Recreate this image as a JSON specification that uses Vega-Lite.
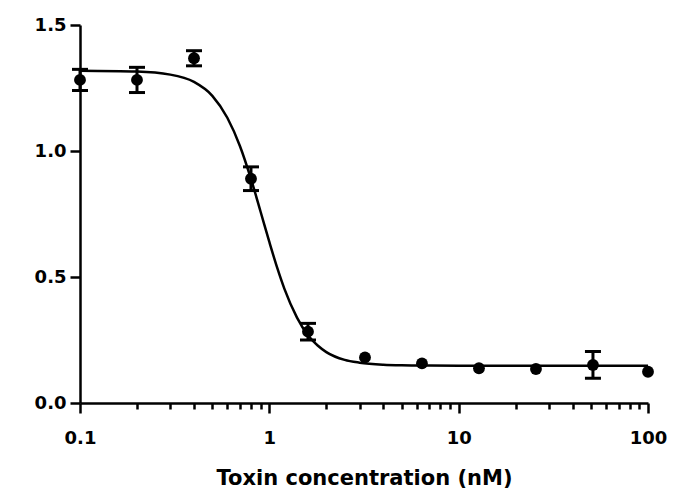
{
  "$schema": "https://vega.github.io/schema/vega-lite/v6.json",
  "autosize": {"type": "none"},
  "padding": {"left": 80, "top": 25, "right": 28, "bottom": 90},
  "width": 568,
  "height": 378,
  "background": "white",
  "config": {
    "view": {"stroke": null},
    "axis": {
      "domainColor": "black",
      "domainWidth": 2.5,
      "tickColor": "black",
      "tickWidth": 2.5,
      "grid": false,
      "labelFont": "DejaVu Sans",
      "labelFontWeight": "bold",
      "labelFontSize": 18,
      "labelColor": "black",
      "titleFont": "DejaVu Sans",
      "titleFontWeight": "bold",
      "titleColor": "black"
    }
  },
  "datasets": {
    "curve": [
      {"cx": 0.1, "cy": 1.318},
      {"cx": 0.2, "cy": 1.315},
      {"cx": 0.3, "cy": 1.303},
      {"cx": 0.4, "cy": 1.274},
      {"cx": 0.5, "cy": 1.219},
      {"cx": 0.6, "cy": 1.132},
      {"cx": 0.7, "cy": 1.019},
      {"cx": 0.8, "cy": 0.889},
      {"cx": 0.9, "cy": 0.758},
      {"cx": 1.0, "cy": 0.639},
      {"cx": 1.1, "cy": 0.537},
      {"cx": 1.2, "cy": 0.454},
      {"cx": 1.4, "cy": 0.339},
      {"cx": 1.6, "cy": 0.269},
      {"cx": 1.8, "cy": 0.228},
      {"cx": 2.0, "cy": 0.202},
      {"cx": 2.5, "cy": 0.171},
      {"cx": 3.0, "cy": 0.160},
      {"cx": 4.0, "cy": 0.152},
      {"cx": 5.0, "cy": 0.1496},
      {"cx": 7.0, "cy": 0.1484},
      {"cx": 10.0, "cy": 0.148},
      {"cx": 20.0, "cy": 0.148},
      {"cx": 50.0, "cy": 0.148},
      {"cx": 100.0, "cy": 0.148}
    ],
    "pts": [
      {"x": 0.1, "y": 1.282},
      {"x": 0.2, "y": 1.282},
      {"x": 0.4, "y": 1.368},
      {"x": 0.8, "y": 0.890},
      {"x": 1.6, "y": 0.283},
      {"x": 3.2, "y": 0.181},
      {"x": 6.4, "y": 0.157},
      {"x": 12.8, "y": 0.138},
      {"x": 25.6, "y": 0.135},
      {"x": 51.2, "y": 0.151},
      {"x": 100, "y": 0.124}
    ],
    "errs": [
      {"x": 0.1, "lo": 1.240, "hi": 1.324},
      {"x": 0.2, "lo": 1.232, "hi": 1.332},
      {"x": 0.4, "lo": 1.338, "hi": 1.398},
      {"x": 0.8, "lo": 0.843, "hi": 0.937},
      {"x": 1.6, "lo": 0.250, "hi": 0.316},
      {"x": 51.2, "lo": 0.098, "hi": 0.204}
    ]
  },
  "layer": [
    {
      "data": {"name": "curve"},
      "mark": {"type": "line", "color": "black", "strokeWidth": 2.5, "interpolate": "monotone"},
      "encoding": {
        "x": {
          "field": "cx", "type": "quantitative",
          "scale": {"type": "log", "domain": [0.1, 100], "nice": false},
          "axis": {
            "title": "Toxin concentration (nM)",
            "titleFontSize": 21,
            "titlePadding": 20,
            "values": [0.1, 0.2, 0.3, 0.4, 0.5, 0.6, 0.7, 0.8, 0.9, 1, 2, 3, 4, 5, 6, 7, 8, 9, 10, 20, 30, 40, 50, 60, 70, 80, 90, 100],
            "labelExpr": "datum.value == 0.1 ? '0.1' : datum.value == 1 ? '1' : datum.value == 10 ? '10' : datum.value == 100 ? '100' : ''",
            "labelOverlap": false,
            "labelFlush": false,
            "labelPadding": 16,
            "tickSize": {"condition": {"test": "datum.value == 0.1 || datum.value == 1 || datum.value == 10 || datum.value == 100", "value": 10}, "value": 6}
          }
        },
        "y": {
          "field": "cy", "type": "quantitative",
          "scale": {"domain": [0, 1.5], "nice": false},
          "axis": {
            "title": null,
            "values": [0, 0.5, 1, 1.5],
            "format": ".1f",
            "tickSize": 10,
            "labelPadding": 4
          }
        }
      }
    },
    {
      "data": {"name": "errs"},
      "mark": {"type": "errorbar", "color": "black", "opacity": 1, "ticks": {"size": 16, "thickness": 3, "color": "black", "opacity": 1}, "rule": {"strokeWidth": 3, "opacity": 1}},
      "encoding": {
        "x": {"field": "x", "type": "quantitative"},
        "y": {"field": "lo", "type": "quantitative"},
        "y2": {"field": "hi"}
      }
    },
    {
      "data": {"name": "pts"},
      "mark": {"type": "point", "filled": true, "color": "black", "opacity": 1, "size": 140},
      "encoding": {
        "x": {"field": "x", "type": "quantitative"},
        "y": {"field": "y", "type": "quantitative"}
      }
    }
  ]
}
